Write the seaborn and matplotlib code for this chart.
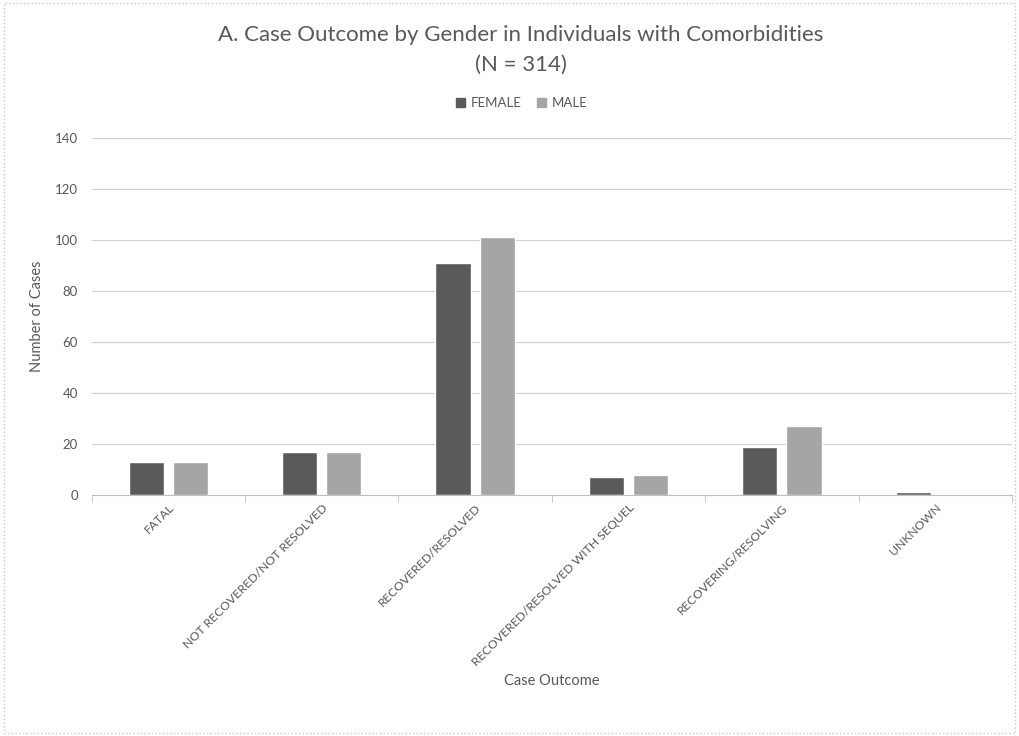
import pandas as pd
import matplotlib
matplotlib.use("Agg")
import matplotlib.pyplot as plt
from matplotlib.patches import Patch
import seaborn as sns

# valeurs
outcomes = ["FATAL", "NOT RECOVERED/NOT RESOLVED", "RECOVERED/RESOLVED",
            "RECOVERED/RESOLVED WITH SEQUEL", "RECOVERING/RESOLVING", "UNKNOWN"]
female = [13, 17, 91, 7, 19, 1]
male = [13, 17, 101, 8, 27, 0]
genders = ["FEMALE", "MALE"]

df = pd.DataFrame({
    "Case Outcome": outcomes * 2,
    "Gender": ["FEMALE"] * len(outcomes) + ["MALE"] * len(outcomes),
    "Number of Cases": female + male,
})

sns.set_style("white")
plt.rcParams['font.family'] = ['Lato', 'DejaVu Sans']
txt = "#595959"
colors = ["#5a5a5a", "#a5a5a5"]

fig = plt.figure(figsize=(10.19, 7.36), dpi=100)
ax = fig.add_axes([0.090, 0.3274, 0.903, 0.4851])

sns.barplot(data=df, x="Case Outcome", y="Number of Cases", hue="Gender",
            hue_order=genders, palette=colors,
            width=0.575, gap=0.2, ax=ax, legend=False)

ax.set_ylim(0, 140)
ax.set_yticks(range(0, 141, 20))
ax.set_xlim(-0.5, len(outcomes) - 0.5)
ax.yaxis.grid(True, color="#d0d0d0", linewidth=0.8)
ax.set_axisbelow(True)
for s in ["top", "right", "left"]:
    ax.spines[s].set_visible(False)
ax.spines["bottom"].set_color("#bfbfbf")

ax.set_xticks([i - 0.5 for i in range(len(outcomes) + 1)], minor=True)
ax.tick_params(axis="x", which="minor", length=5, color="#bfbfbf", bottom=True)
ax.tick_params(axis="x", which="major", length=0, pad=5)
ax.tick_params(axis="y", length=0, pad=10, colors=txt, labelsize=9.5)
ax.set_xticks(range(len(outcomes)))
ax.set_xticklabels(outcomes, rotation=45, ha="right", rotation_mode="anchor",
                   color=txt, fontsize=8.8)

ax.set_xlabel("Case Outcome", color=txt, fontsize=10.5, labelpad=4)
ax.set_ylabel("Number of Cases", color=txt, fontsize=10.5, labelpad=8)

fig.text(0.511, 0.952, "A. Case Outcome by Gender in Individuals with Comorbidities",
         ha="center", va="center", fontsize=16, color=txt)
fig.text(0.511, 0.912, "(N = 314)", ha="center", va="center", fontsize=16, color=txt)

handles = [Patch(color=c) for c in colors]
fig.legend(handles, genders, loc="center", bbox_to_anchor=(0.512, 0.86), ncol=2,
           frameon=False, fontsize=9.5, labelcolor=txt, handlelength=0.7,
           handleheight=0.7, handletextpad=0.4, columnspacing=1.2)

border = plt.Rectangle((0.004, 0.004), 0.992, 0.992, transform=fig.transFigure,
                       fill=False, edgecolor="#c8c8c8", linestyle=":", linewidth=1)
fig.patches.append(border)

fig.savefig("out.png", dpi=100)
